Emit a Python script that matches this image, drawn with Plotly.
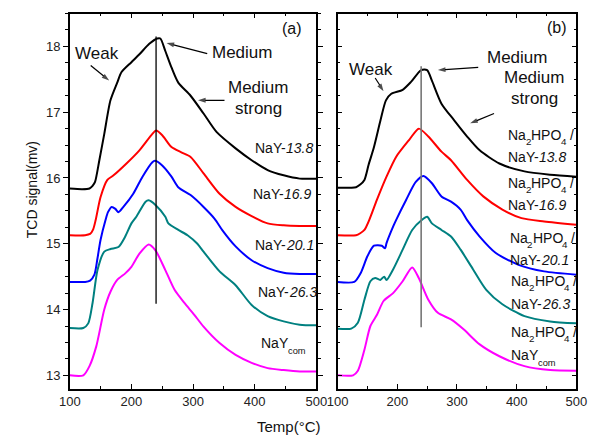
import plotly.graph_objects as go

# ---------------- data: panel (a) ----------------
a_black_x = [100, 120, 132, 137, 141, 148, 156, 166, 177, 184, 200, 213, 229, 242, 247, 255, 265, 276, 296, 317, 338, 369, 395, 421, 447, 473, 500]
a_black_y = [15.84, 15.83, 15.84, 15.88, 15.94, 16.27, 16.67, 17.18, 17.45, 17.61, 17.76, 17.88, 18.04, 18.12, 18.12, 17.93, 17.68, 17.45, 17.25, 16.98, 16.70, 16.45, 16.27, 16.12, 16.04, 15.99, 15.99]

a_red_x = [100, 125, 133, 138, 142, 150, 161, 171, 192, 213, 234, 240, 250, 265, 281, 296, 317, 343, 369, 395, 421, 447, 473, 500]
a_red_y = [15.13, 15.13, 15.15, 15.22, 15.36, 15.71, 15.97, 16.04, 16.22, 16.42, 16.67, 16.72, 16.65, 16.47, 16.39, 16.32, 16.07, 15.76, 15.56, 15.42, 15.31, 15.28, 15.27, 15.27]

a_blue_x = [100, 125, 133, 140, 145, 150, 158, 162, 168, 174, 179, 187, 203, 218, 234, 238, 250, 265, 276, 296, 317, 335, 348, 369, 395, 421, 447, 473, 500]
a_blue_y = [14.42, 14.42, 14.44, 14.53, 14.78, 15.06, 15.36, 15.48, 15.56, 15.53, 15.48, 15.56, 15.76, 16.02, 16.24, 16.26, 16.19, 16.02, 15.86, 15.74, 15.56, 15.38, 15.20, 14.96, 14.75, 14.63, 14.56, 14.54, 14.54]

a_teal_x = [100, 122, 130, 137, 145, 156, 166, 179, 190, 200, 208, 223, 228, 239, 255, 260, 276, 291, 307, 317, 343, 369, 395, 421, 447, 473, 500]
a_teal_y = [13.72, 13.72, 13.79, 14.10, 14.60, 14.88, 14.92, 14.95, 15.11, 15.31, 15.41, 15.64, 15.66, 15.59, 15.41, 15.31, 15.21, 15.13, 15.00, 14.88, 14.58, 14.37, 14.07, 13.90, 13.82, 13.77, 13.76]

a_mag_x = [100, 122, 132, 143, 156, 166, 177, 190, 200, 213, 228, 239, 255, 270, 286, 302, 317, 343, 369, 395, 421, 447, 473, 500]
a_mag_y = [13.0, 13.0, 13.14, 13.44, 14.0, 14.27, 14.45, 14.55, 14.65, 14.85, 14.99, 14.90, 14.60, 14.30, 14.10, 13.92, 13.74, 13.49, 13.31, 13.19, 13.11, 13.08, 13.06, 13.06]

# ---------------- data: panel (b) ----------------
b_black_x = [100, 131, 138, 145, 152, 161, 172, 181, 190, 209, 223, 240, 250, 258, 274, 295, 317, 338, 371, 413, 456, 500]
b_black_y = [15.85, 15.86, 15.90, 15.97, 16.20, 16.47, 16.88, 17.18, 17.28, 17.34, 17.46, 17.64, 17.64, 17.48, 17.13, 16.88, 16.63, 16.42, 16.22, 16.10, 16.05, 16.02]

b_red_x = [100, 131, 138, 145, 153, 166, 182, 198, 220, 236, 252, 274, 290, 317, 344, 376, 408, 446, 500]
b_red_y = [15.13, 15.13, 15.16, 15.21, 15.36, 15.67, 16.02, 16.32, 16.58, 16.75, 16.63, 16.40, 16.27, 15.97, 15.72, 15.52, 15.39, 15.34, 15.29]

b_blue_x = [100, 128, 139, 150, 161, 174, 179.5, 182, 193, 198, 215, 231, 244, 258, 274, 290, 306, 317, 338, 365, 403, 446, 500]
b_blue_y = [14.42, 14.42, 14.56, 14.81, 14.97, 14.97, 14.93, 15.01, 15.26, 15.36, 15.67, 15.94, 16.03, 15.92, 15.72, 15.64, 15.52, 15.36, 15.11, 14.86, 14.68, 14.58, 14.53]

b_teal_x = [100, 123, 134, 145, 155, 163, 171.5, 178, 182, 193, 209, 225, 241, 250, 258, 274, 290, 306, 327, 349, 376, 413, 456, 500]
b_teal_y = [13.71, 13.71, 13.80, 14.15, 14.43, 14.48, 14.45, 14.50, 14.45, 14.61, 14.91, 15.21, 15.36, 15.41, 15.31, 15.21, 15.11, 14.91, 14.61, 14.30, 14.08, 13.90, 13.82, 13.79]

b_mag_x = [100, 126, 134, 145, 155, 166, 177, 193, 209, 225, 236, 252, 268, 290, 311, 338, 371, 413, 456, 500]
b_mag_y = [13.0, 13.0, 13.07, 13.39, 13.75, 13.92, 14.13, 14.25, 14.43, 14.64, 14.48, 14.15, 13.95, 13.85, 13.70, 13.47, 13.29, 13.14, 13.08, 13.07]

# reference lines at the medium peak
a_vline_x = [240, 240]
a_vline_y = [14.09, 18.15]
b_vline_x = [240, 240]
b_vline_y = [13.73, 17.70]

# arrows: (tail_x, tail_y, head_x, head_y)
a_arrows = [(134, 17.71, 164, 17.48), (323, 17.89, 257, 18.05), (351, 17.18, 308, 17.18)]
b_arrows = [(163, 17.52, 177, 17.32), (335.5, 17.68, 268, 17.64), (362, 16.98, 322, 16.83)]

colors = ["#000000", "#FF0000", "#0000FF", "#008080", "#FF00FF"]

# sample labels: (plain prefix, italic number or None, subscript or None)
sample_prefix = ["NaY-", "NaY-", "NaY-", "NaY-", "NaY"]
sample_number = ["13.8", "16.9", "20.1", "26.3", None]
sample_sub = [None, None, None, None, "com"]

# label placement in pixels (left edge, vertical centre)
a_label_px = [252, 250.5, 252.5, 255, 259]
a_label_py = [148, 194, 245, 291.5, 343]
b_label_px = [515, 515, 516.5, 518.5, 518.5]
b_label_py1 = [135, 183, 238, 281, 332]
b_label_py2 = [157, 205, 260, 304, 355]

FONT = "Arial"
W, H = 599, 436

fig = go.Figure()

a_series = [(a_black_x, a_black_y), (a_red_x, a_red_y), (a_blue_x, a_blue_y), (a_teal_x, a_teal_y), (a_mag_x, a_mag_y)]
b_series = [(b_black_x, b_black_y), (b_red_x, b_red_y), (b_blue_x, b_blue_y), (b_teal_x, b_teal_y), (b_mag_x, b_mag_y)]

for (xs, ys), c in zip(a_series, colors):
    fig.add_trace(go.Scatter(x=xs, y=ys, mode="lines", xaxis="x", yaxis="y",
                             line=dict(color=c, width=2, shape="spline", smoothing=0.7),
                             showlegend=False, hoverinfo="skip"))
for (xs, ys), c in zip(b_series, colors):
    fig.add_trace(go.Scatter(x=xs, y=ys, mode="lines", xaxis="x2", yaxis="y2",
                             line=dict(color=c, width=2, shape="spline", smoothing=0.7),
                             showlegend=False, hoverinfo="skip"))

fig.add_trace(go.Scatter(x=a_vline_x, y=a_vline_y, mode="lines", xaxis="x", yaxis="y",
                         line=dict(color="#000000", width=1.3), showlegend=False, hoverinfo="skip"))
fig.add_trace(go.Scatter(x=b_vline_x, y=b_vline_y, mode="lines", xaxis="x2", yaxis="y2",
                         line=dict(color="#777777", width=1.6), showlegend=False, hoverinfo="skip"))

for arrows, xa, ya in [(a_arrows, "x", "y"), (b_arrows, "x2", "y2")]:
    for tx, ty, hx, hy in arrows:
        fig.add_trace(go.Scatter(x=[tx, hx], y=[ty, hy], mode="lines+markers", xaxis=xa, yaxis=ya,
                                 line=dict(color="black", width=1.2),
                                 marker=dict(symbol=["circle", "arrow"], size=[0, 8], color="black",
                                             angleref="previous", line=dict(width=0)),
                                 showlegend=False, hoverinfo="skip"))

ydom = [1 - 388.5 / H, 1 - 13.5 / H]

common_x = dict(range=[100, 500], dtick=100, tick0=100, showline=True, linecolor="black", linewidth=1.5,
                mirror="ticks", ticks="inside", ticklen=5, tickwidth=1, tickcolor="black",
                minor=dict(dtick=50, ticks="inside", ticklen=3, tickcolor="black", tickwidth=1),
                showgrid=False, zeroline=False, tickfont=dict(family=FONT, size=13, color="#222"))
common_y = dict(range=[12.8, 18.5], dtick=1, tick0=13, showline=True, linecolor="black", linewidth=1.5,
                mirror="ticks", ticklen=5, tickwidth=1, tickcolor="black",
                showgrid=False, zeroline=False, tickfont=dict(family=FONT, size=13, color="#222"))

fig.update_layout(
    width=W, height=H,
    margin=dict(l=0, r=0, t=0, b=0),
    paper_bgcolor="white", plot_bgcolor="white",
    font=dict(family=FONT, size=13, color="#111"),
    xaxis=dict(domain=[61 / W, 317 / W], anchor="y", **common_x),
    yaxis=dict(domain=ydom, anchor="x", ticks="outside",
               minor=dict(dtick=0.25, ticks="outside", ticklen=3, tickcolor="black", tickwidth=1), **common_y),
    xaxis2=dict(domain=[339 / W, 587 / W], anchor="y2", **common_x),
    yaxis2=dict(domain=ydom, anchor="x2", ticks="inside", showticklabels=False,
                minor=dict(dtick=0.25, ticks="inside", ticklen=3, tickcolor="black", tickwidth=1), **common_y),
    showlegend=False,
)

ann = []


def tf(s, style="normal"):
    return dict(family=FONT, size=s, color="#111", style=style)


# Arial advance widths (1/1000 em) for the characters used in the labels
ADV = {"N": 722, "a": 556, "Y": 667, "-": 333, "H": 722, "P": 667, "O": 778, " ": 278, "/": 278,
       ".": 278, "c": 500, "o": 556, "m": 833}
for d in "0123456789":
    ADV[d] = 556


def tw(s, size):
    return sum(ADV[ch] for ch in s) * size / 1000.0


def piece(text, x_px, yc_px, size, style="normal"):
    ann.append(dict(text=text, xref="paper", yref="paper", x=x_px / W, y=1 - yc_px / H,
                    xanchor="left", yanchor="middle", showarrow=False, borderpad=0,
                    font=tf(size, style)))
    return x_px + tw(text, size)


S = 14


def sample_label(prefix, number, sub, x_px, yc_px):
    x = piece(prefix, x_px, yc_px, S)
    if number is not None:
        piece(number, x + 0.3, yc_px, S, "italic")
    if sub is not None:
        piece(sub, x + 0.8, yc_px + 7.5, 9.3)


def formula_label(x_px, yc_px):
    x = piece("Na", x_px, yc_px, S)
    x = piece("2", x + 0.4, yc_px + 6, 9.8)
    x = piece("HPO", x + 0.4, yc_px, S)
    x = piece("4", x + 0.4, yc_px + 6, 9.8)
    piece("/", x + tw(" ", S), yc_px, S)


# axis titles
ann.append(dict(text="TCD signal(mv)", xref="paper", yref="paper", x=22 / W, y=1 - 190 / H,
                textangle=-90, showarrow=False, font=tf(14), xanchor="center", yanchor="middle"))
ann.append(dict(text="Temp(°C)", xref="paper", yref="paper", x=289 / W, y=1 - 426 / H,
                showarrow=False, font=tf(15), xanchor="center", yanchor="middle"))

# panel (a) texts
ann.append(dict(text="(a)", xref="x", yref="y", x=461, y=18.27, showarrow=False, font=tf(16)))
ann.append(dict(text="Weak", xref="x", yref="y", x=145, y=17.89, showarrow=False, font=tf(17)))
ann.append(dict(text="Medium", xref="x", yref="y", x=380, y=17.9, showarrow=False, font=tf(17)))
ann.append(dict(text="Medium", xref="x", yref="y", x=406, y=17.37, showarrow=False, font=tf(17)))
ann.append(dict(text="strong", xref="x", yref="y", x=406, y=17.05, showarrow=False, font=tf(17)))
for p, n, s, lx, ly in zip(sample_prefix, sample_number, sample_sub, a_label_px, a_label_py):
    sample_label(p, n, s, lx, ly)

# panel (b) texts
ann.append(dict(text="(b)", xref="x2", yref="y2", x=467.7, y=18.29, showarrow=False, font=tf(16)))
ann.append(dict(text="Weak", xref="x2", yref="y2", x=156.5, y=17.65, showarrow=False, font=tf(17)))
ann.append(dict(text="Medium", xref="x2", yref="y2", x=400, y=17.83, showarrow=False, font=tf(17)))
ann.append(dict(text="Medium", xref="x2", yref="y2", x=429, y=17.53, showarrow=False, font=tf(17)))
ann.append(dict(text="strong", xref="x2", yref="y2", x=429, y=17.21, showarrow=False, font=tf(17)))
for p, n, s, lx, ly1, ly2 in zip(sample_prefix, sample_number, sample_sub, b_label_px, b_label_py1, b_label_py2):
    formula_label(lx, ly1)
    sample_label(p, n, s, lx, ly2)

fig.update_layout(annotations=ann)

fig.write_html("out.html")
